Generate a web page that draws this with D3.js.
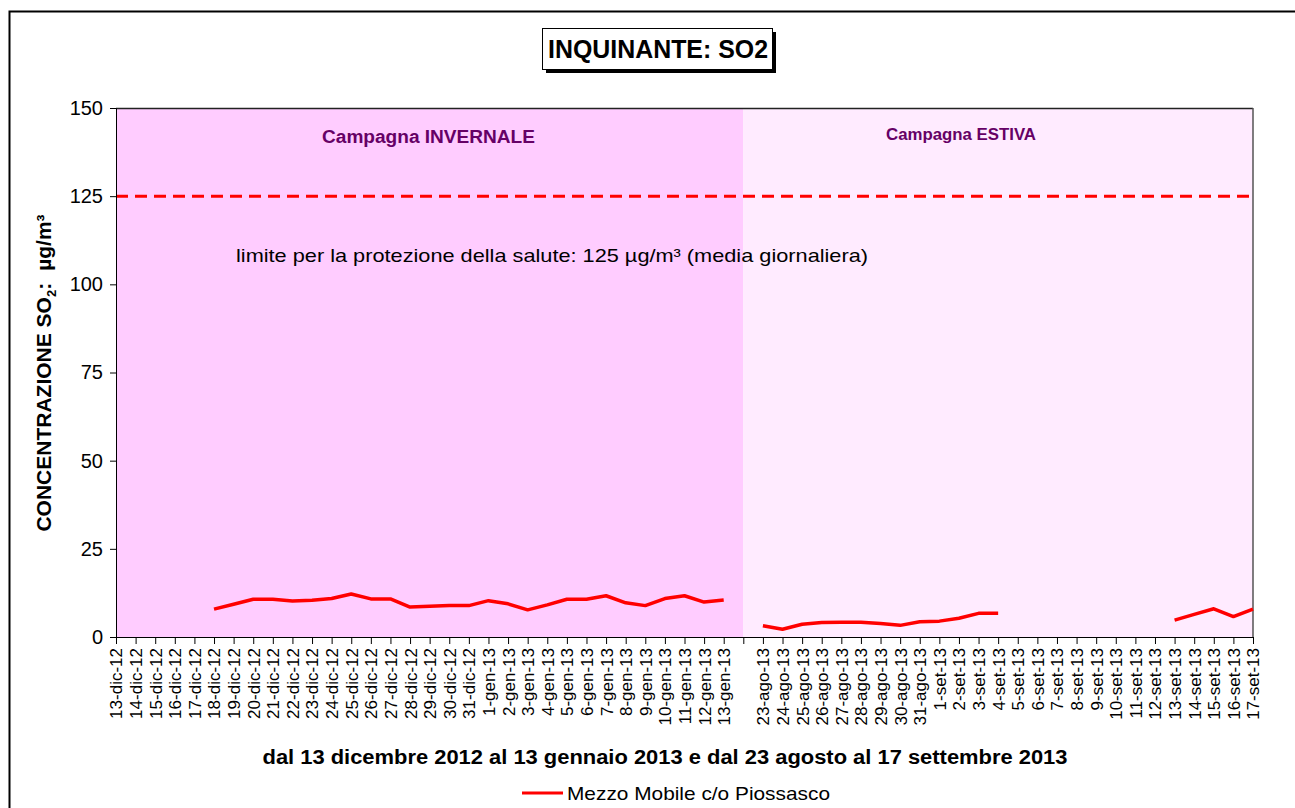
<!DOCTYPE html>
<html>
<head>
<meta charset="utf-8">
<script src="https://cdn.jsdelivr.net/npm/d3@7"></script>
<style>
  body { margin: 0; background: #fff; }
  text { font-family: "Liberation Sans", Arial, sans-serif; }
</style>
</head>
<body>
<div class="chart"></div>
<script>
// categories (one blank slot between the two campaigns)
const winterDays = ["13-dic-12","14-dic-12","15-dic-12","16-dic-12","17-dic-12","18-dic-12","19-dic-12","20-dic-12",
  "21-dic-12","22-dic-12","23-dic-12","24-dic-12","25-dic-12","26-dic-12","27-dic-12","28-dic-12","29-dic-12",
  "30-dic-12","31-dic-12","1-gen-13","2-gen-13","3-gen-13","4-gen-13","5-gen-13","6-gen-13","7-gen-13","8-gen-13",
  "9-gen-13","10-gen-13","11-gen-13","12-gen-13","13-gen-13"];
const gapDay = [" "];
const summerDays = ["23-ago-13","24-ago-13","25-ago-13","26-ago-13","27-ago-13","28-ago-13","29-ago-13","30-ago-13",
  "31-ago-13","1-set-13","2-set-13","3-set-13","4-set-13","5-set-13","6-set-13","7-set-13","8-set-13","9-set-13",
  "10-set-13","11-set-13","12-set-13","13-set-13","14-set-13","15-set-13","16-set-13","17-set-13"];

// SO2 daily means (µg/m³), null = no data
const winterValues = [null,null,null,null,null,7.9,9.3,10.7,10.7,10.2,10.4,10.9,12.2,10.8,10.8,8.5,8.7,8.9,8.9,
  10.3,9.4,7.7,9.1,10.7,10.7,11.7,9.7,8.9,10.9,11.7,9.9,10.5];
const gapValue = [null];
const summerValues = [3.2,2.2,3.6,4.1,4.2,4.2,3.8,3.3,4.3,4.5,5.3,6.7,6.7,null,null,null,null,null,null,null,null,
  4.8,6.4,8.0,5.8,7.9];

const yTicks = [0,25,50,75,100,125,150];
const limitValue = 125;

const categories = winterDays.concat(gapDay, summerDays);
const values = winterValues.concat(gapValue, summerValues);
const series = categories.map((c, i) => ({cat: c, v: values[i]}));

const W = 1295, H = 808;
const margin = {top: 108, left: 116, right: 42, bottom: 171};
const plotW = W - margin.left - margin.right,
      plotH = H - margin.top - margin.bottom;

const svg = d3.select(".chart").append("svg")
  .attr("width", W)
  .attr("height", H);

// outer frame
svg.append("rect")
  .attr("x", 9.5).attr("y", 11.5)
  .attr("width", W + 10).attr("height", H + 10)
  .attr("fill", "none").attr("stroke", "#000").attr("stroke-width", 2);

const x = d3.scalePoint().domain(categories).range([0, plotW]).padding(0);
const y = d3.scaleLinear().domain([0, 150]).range([plotH, 0]);

const g = svg.append("g").attr("transform", `translate(${margin.left},${margin.top})`);

// campaign backgrounds
g.append("rect")
  .attr("x", x(winterDays[0])).attr("y", 0)
  .attr("width", x(gapDay[0]) - x(winterDays[0])).attr("height", plotH)
  .attr("fill", "#ffccff");
g.append("rect")
  .attr("x", x(gapDay[0])).attr("y", 0)
  .attr("width", x(summerDays[summerDays.length - 1]) - x(gapDay[0])).attr("height", plotH)
  .attr("fill", "#ffebff");

// plot frame top/right
g.append("line").attr("x1", 0).attr("x2", plotW).attr("y1", 0.5).attr("y2", 0.5)
  .attr("stroke", "#222").attr("stroke-width", 1.5);
g.append("line").attr("x1", plotW).attr("x2", plotW).attr("y1", 0).attr("y2", plotH)
  .attr("stroke", "#555").attr("stroke-width", 1.5);

// campaign labels
g.append("text")
  .attr("x", 312.5).attr("y", 35)
  .attr("text-anchor", "middle").attr("font-size", 18).attr("font-weight", "bold")
  .attr("textLength", 213).attr("lengthAdjust", "spacingAndGlyphs")
  .attr("fill", "#660066").text("Campagna INVERNALE");
g.append("text")
  .attr("x", 845).attr("y", 32)
  .attr("text-anchor", "middle").attr("font-size", 16.5).attr("font-weight", "bold")
  .attr("textLength", 150).attr("lengthAdjust", "spacingAndGlyphs")
  .attr("fill", "#660066").text("Campagna ESTIVA");

// limit line
g.append("line")
  .attr("x1", 0).attr("x2", plotW)
  .attr("y1", y(limitValue)).attr("y2", y(limitValue))
  .attr("stroke", "#ff0000").attr("stroke-width", 3)
  .attr("stroke-dasharray", "12,7");

g.append("text")
  .attr("x", 120).attr("y", 154)
  .attr("font-size", 19).attr("textLength", 632).attr("lengthAdjust", "spacingAndGlyphs")
  .attr("fill", "#000")
  .text("limite per la protezione della salute: 125 µg/m³ (media giornaliera)");

// axes
const yAxis = g.append("g").call(d3.axisLeft(y).tickValues(yTicks).tickSize(6).tickPadding(7));
yAxis.selectAll("text").attr("font-size", 20).attr("fill", "#000").attr("font-family", "Liberation Sans, Arial, sans-serif");
yAxis.selectAll("line,path").attr("stroke", "#000");

const xAxis = g.append("g").attr("transform", `translate(0,${plotH})`)
  .call(d3.axisBottom(x).tickSize(7).tickSizeOuter(0));
xAxis.selectAll("line,path").attr("stroke", "#000");
xAxis.selectAll("text")
  .attr("font-size", 17).attr("fill", "#000").attr("font-family", "Liberation Sans, Arial, sans-serif")
  .attr("transform", "rotate(-90)")
  .attr("text-anchor", "end")
  .attr("x", -11).attr("y", 0).attr("dy", "0.35em");

// data line
const line = d3.line()
  .defined(d => d.v !== null)
  .x(d => x(d.cat))
  .y(d => y(d.v));
g.append("path")
  .datum(series)
  .attr("fill", "none").attr("stroke", "#ff0000").attr("stroke-width", 3.5)
  .attr("stroke-linejoin", "round")
  .attr("d", line);

// title box
svg.append("rect").attr("x", 546).attr("y", 32).attr("width", 230).attr("height", 41).attr("fill", "#000");
svg.append("rect").attr("x", 542.5).attr("y", 28.5).attr("width", 230).attr("height", 41)
  .attr("fill", "#fff").attr("stroke", "#000").attr("stroke-width", 1);
svg.append("text").attr("x", 658).attr("y", 58)
  .attr("text-anchor", "middle").attr("font-size", 25).attr("font-weight", "bold")
  .attr("textLength", 220).attr("lengthAdjust", "spacingAndGlyphs")
  .text("INQUINANTE: SO2");

// y title
const yt = svg.append("text")
  .attr("transform", "translate(51,373) rotate(-90)")
  .attr("text-anchor", "middle").attr("font-size", 21).attr("font-weight", "bold");
yt.append("tspan").text("CONCENTRAZIONE SO");
yt.append("tspan").attr("font-size", 13).attr("dy", 5).text("2");
yt.append("tspan").attr("dy", -5).text(":");
yt.append("tspan").attr("dx", 12).text("µg/m³");

// x title
svg.append("text").attr("x", 665).attr("y", 764)
  .attr("text-anchor", "middle").attr("font-size", 20).attr("font-weight", "bold")
  .attr("textLength", 805).attr("lengthAdjust", "spacingAndGlyphs")
  .text("dal 13 dicembre 2012 al 13 gennaio 2013 e dal 23 agosto al 17 settembre 2013");

// legend
svg.append("line").attr("x1", 522).attr("x2", 563).attr("y1", 793).attr("y2", 793)
  .attr("stroke", "#ff0000").attr("stroke-width", 3);
svg.append("text").attr("x", 567).attr("y", 800)
  .attr("font-size", 19).attr("textLength", 263).attr("lengthAdjust", "spacingAndGlyphs")
  .text("Mezzo Mobile c/o Piossasco");
</script>
</body>
</html>
